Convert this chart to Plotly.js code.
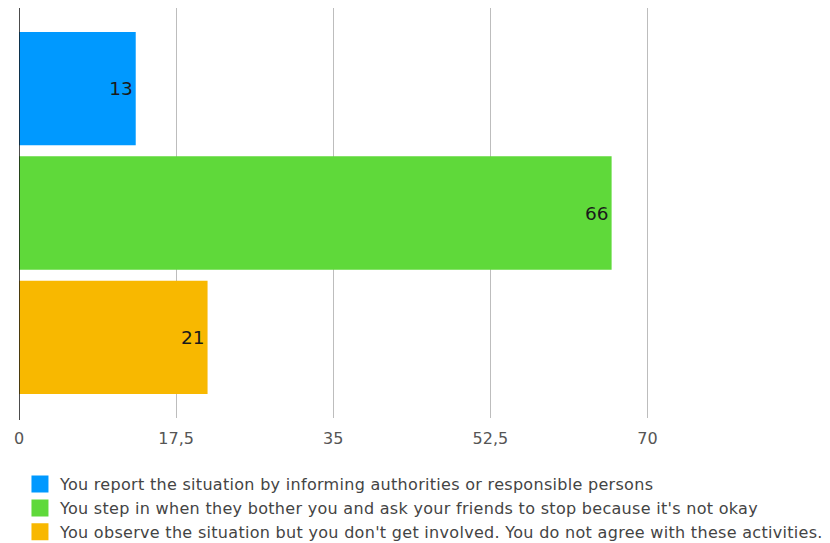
<!DOCTYPE html>
<html><head><meta charset="utf-8">
<script src="https://cdn.plot.ly/plotly-3.0.1.min.js"></script>
<style>html,body{margin:0;padding:0;background:#fff}#chart{width:830px;height:543px}
.legendtext{letter-spacing:0.3px}</style>
</head><body><div id="chart"></div>
<script>
const categories = [
  "You report the situation by informing authorities or responsible persons",
  "You step in when they bother you and ask your friends to stop because it's not okay",
  "You observe the situation but you don't get involved. You do not agree with these activities."
];
const values = [13, 66, 21];
const colors = ["#0099ff", "#5fd93a", "#f8b800"];
const tickVals = [0, 17.5, 35, 52.5, 70];
const tickText = ["0", "17,5", "35", "52,5", "70"];
const FONT = "DejaVu Sans, Verdana, sans-serif";

// data bars (legend handled by proxy entries below so the key squares can be larger)
const barTraces = categories.map((c, i) => ({
  type: "bar", orientation: "h",
  x: [values[i]], y: [i], name: c, showlegend: false,
  marker: {color: colors[i]}, width: 0.91,
  text: [String(values[i])], textposition: "inside", insidetextanchor: "end",
  textfont: {size: 18.5, color: "#1a1a1a", family: FONT},
  hoverinfo: "x"
}));
// legend entries (no data drawn)
const legendTraces = categories.map((c, i) => ({
  type: "bar", orientation: "h", x: [null], y: [null], name: c,
  marker: {color: colors[i], line: {color: colors[i], width: 6}},
  showlegend: true, hoverinfo: "skip"
}));

const layout = {
  width: 830, height: 543,
  margin: {l: 19, r: 2, t: 8, b: 125, autoexpand: false},
  barmode: "overlay",
  paper_bgcolor: "#fff", plot_bgcolor: "#fff",
  font: {family: FONT, color: "#444"},
  xaxis: {range: [0, 90.1], tickvals: tickVals, ticktext: tickText,
    showgrid: true, gridcolor: "#bdbdbd", gridwidth: 1, zeroline: false,
    showline: false, ticks: "", ticklabelstandoff: 9, automargin: false,
    tickfont: {size: 16, color: "#555", family: FONT}},
  yaxis: {range: [2.647, -0.647], showticklabels: false, showgrid: false,
    zeroline: false, showline: false, ticks: "", automargin: false},
  shapes: [{type: "line", xref: "x", yref: "paper", x0: 0, x1: 0, y0: -0.005, y1: 1,
    line: {color: "#111", width: 1.5}}],
  showlegend: true,
  legend: {orientation: "v", x: 0.0012, y: -0.12, xanchor: "left", yanchor: "top",
    font: {size: 16, color: "#444", family: FONT}, tracegroupgap: 0, itemwidth: 30,
    bgcolor: "rgba(0,0,0,0)"}
};
Plotly.newPlot("chart", barTraces.concat(legendTraces), layout, {displayModeBar: false, staticPlot: true});
</script></body></html>
